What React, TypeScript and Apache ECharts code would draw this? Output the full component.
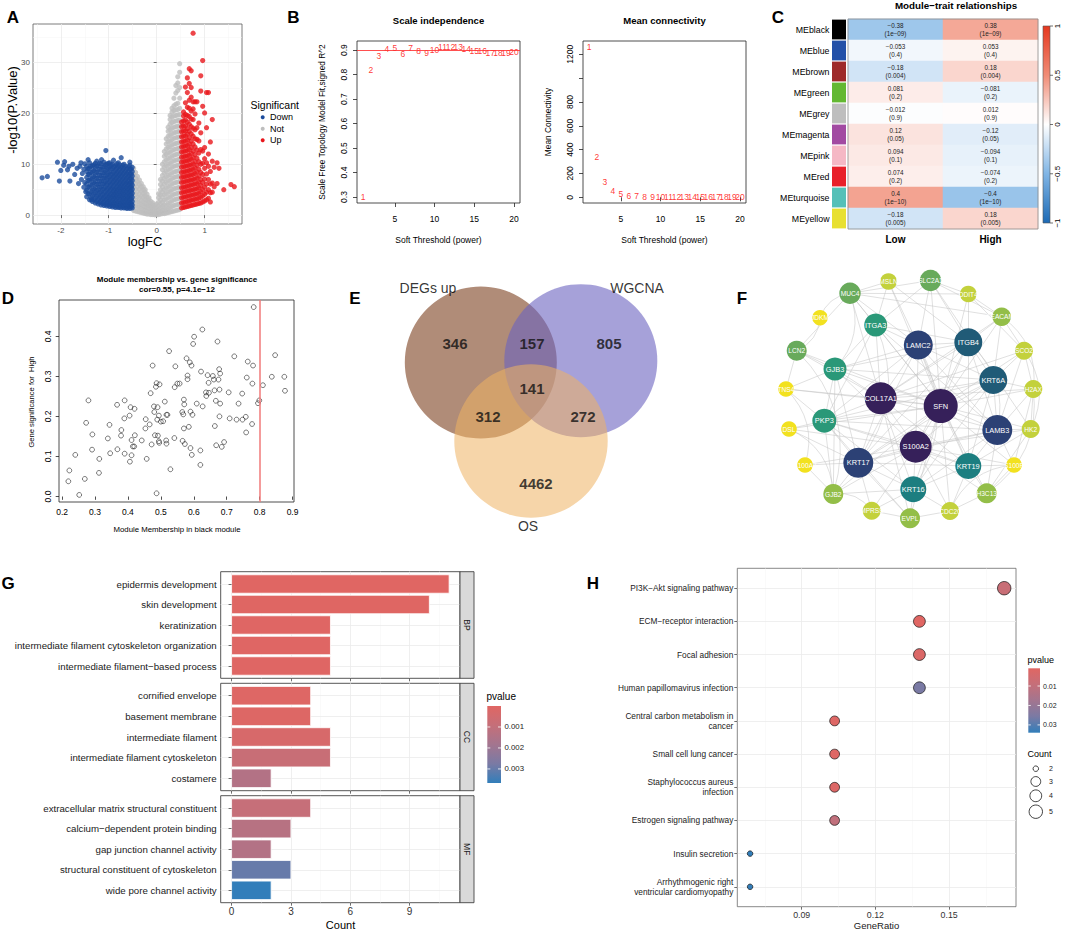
import React, { useEffect, useRef } from "react";
import * as echarts from "echarts";

const FONT = "'Liberation Sans', Arial, Helvetica, sans-serif";

/* ============ A: volcano plot (logFC vs -log10 P) ============ */
const volcanoNotCols: [number, number[]][] = [
  [-0.48, [0.9, 2.0, 3.2, 4.4, 5.6, 6.8, 8.0, 9.2]],
  [-0.44, [0.8, 1.8, 2.9, 4.0, 5.1, 6.2, 7.3, 8.4]],
  [-0.40, [0.7, 1.6, 2.6, 3.6, 4.6, 5.6, 6.6, 7.6]],
  [-0.36, [0.6, 1.5, 2.4, 3.3, 4.2, 5.1, 6.0, 6.9]],
  [-0.32, [0.5, 1.3, 2.1, 2.9, 3.8, 4.7, 5.6, 6.2]],
  [-0.28, [0.4, 1.1, 1.9, 2.7, 3.5, 4.3, 5.0, 5.6]],
  [-0.24, [0.3, 1.0, 1.7, 2.4, 3.1, 3.8, 4.5, 5.0]],
  [-0.20, [0.2, 0.8, 1.5, 2.2, 2.9, 3.5, 4.1]],
  [-0.16, [0.2, 0.7, 1.3, 1.9, 2.5, 3.0, 3.4]],
  [-0.12, [0.1, 0.6, 1.1, 1.7, 2.2, 2.7]],
  [-0.08, [0.1, 0.5, 1.0, 1.5, 2.0, 2.4]],
  [-0.04, [0.05, 0.4, 0.9, 1.4, 1.9]],
  [0.0, [0.05, 0.4, 0.9, 1.5, 2.2]],
  [0.04, [0.1, 0.5, 1.0, 1.7, 2.5, 3.4, 4.2]],
  [0.08, [0.2, 0.7, 1.4, 2.2, 3.0, 4.0, 5.0, 6.0, 7.0]],
  [0.12, [0.3, 0.9, 1.7, 2.6, 3.6, 4.6, 5.6, 6.7, 7.8, 8.9, 10.0]],
  [0.16, [0.3, 1.0, 1.9, 2.9, 4.0, 5.0, 6.1, 7.2, 8.3, 9.4, 10.5, 11.6, 12.5]],
  [0.20, [0.4, 1.1, 2.0, 3.1, 4.2, 5.3, 6.4, 7.5, 8.6, 9.7, 10.8, 11.9, 13.0, 14.0, 15.0]],
  [0.24, [0.5, 1.3, 2.3, 3.4, 4.5, 5.6, 6.7, 7.8, 8.9, 10.0, 11.1, 12.2, 13.3, 14.4, 15.5, 16.5, 17.3]],
  [0.28, [0.6, 1.5, 2.5, 3.6, 4.7, 5.8, 6.9, 8.0, 9.1, 10.2, 11.3, 12.4, 13.5, 14.6, 15.7, 16.8, 17.9, 18.8, 19.6]],
  [0.32, [0.7, 1.7, 2.8, 3.9, 5.0, 6.1, 7.2, 8.3, 9.4, 10.5, 11.6, 12.7, 13.8, 14.9, 16.0, 17.1, 18.2, 19.3, 20.3, 21.0]],
  [0.36, [0.8, 1.9, 3.0, 4.1, 5.2, 6.3, 7.4, 8.5, 9.6, 10.7, 11.8, 12.9, 14.0, 15.1, 16.2, 17.3, 18.4, 19.5, 20.6, 21.5, 23.0]],
  [0.40, [0.9, 2.0, 3.1, 4.2, 5.3, 6.4, 7.5, 8.6, 9.7, 10.8, 11.9, 13.0, 14.1, 15.2, 16.3, 17.4, 18.5, 19.6, 20.7, 21.8, 24.0, 25.5]],
  [0.44, [1.0, 2.1, 3.2, 4.3, 5.4, 6.5, 7.6, 8.7, 9.8, 10.9, 12.0, 13.1, 14.2, 15.3, 16.4, 17.5, 18.6, 19.7, 20.8, 22.0, 24.5, 26.0, 27.2]],
  [0.48, [1.1, 2.2, 3.3, 4.4, 5.5, 6.6, 7.7, 8.8, 9.9, 11.0, 12.1, 13.2, 14.3, 15.4, 16.5, 17.6, 18.7, 19.8, 21.0, 23.0, 25.1, 28.1, 29.8]],
];
const volcanoDownCols: [number, number[]][] = [
  [-1.46, [3.6, 4.9, 6.1, 7.4, 8.6, 9.6]],
  [-1.43, [4.2, 5.5, 6.8, 8.0, 9.1]],
  [-1.40, [3.0, 4.2, 5.5, 6.8, 8.0, 9.2, 10.3]],
  [-1.37, [3.4, 4.6, 5.9, 7.1, 8.4, 9.6]],
  [-1.34, [2.7, 3.8, 4.9, 6.1, 7.3, 8.5, 9.7]],
  [-1.31, [3.0, 4.1, 5.2, 6.4, 7.6, 8.8, 9.9]],
  [-1.28, [2.4, 3.3, 4.4, 5.5, 6.7, 7.9, 9.1, 10.2]],
  [-1.25, [2.7, 3.7, 4.8, 6.0, 7.2, 8.4, 9.6]],
  [-1.22, [2.2, 3.0, 4.0, 5.0, 6.1, 7.3, 8.5, 9.7]],
  [-1.19, [2.5, 3.4, 4.4, 5.5, 6.6, 7.8, 9.0, 10.2]],
  [-1.16, [2.0, 2.7, 3.6, 4.6, 5.6, 6.7, 7.8, 9.0, 10.1]],
  [-1.13, [2.3, 3.1, 4.0, 5.0, 6.1, 7.2, 8.3, 9.4]],
  [-1.10, [1.9, 2.5, 3.3, 4.2, 5.2, 6.2, 7.3, 8.4, 9.5, 10.4]],
  [-1.07, [2.1, 2.9, 3.7, 4.6, 5.6, 6.6, 7.7, 8.8, 9.9]],
  [-1.04, [1.8, 2.4, 3.1, 4.0, 4.9, 5.9, 6.9, 7.9, 9.0, 10.0]],
  [-1.01, [2.0, 2.7, 3.5, 4.4, 5.3, 6.3, 7.3, 8.3, 9.3, 10.2]],
  [-0.98, [1.7, 2.3, 3.0, 3.8, 4.7, 5.6, 6.5, 7.5, 8.5, 9.5, 10.3]],
  [-0.95, [1.9, 2.6, 3.4, 4.2, 5.1, 6.0, 7.0, 8.0, 9.0, 9.9]],
  [-0.92, [1.6, 2.2, 2.9, 3.7, 4.5, 5.4, 6.3, 7.2, 8.1, 9.1, 10.0]],
  [-0.89, [1.8, 2.5, 3.3, 4.1, 4.9, 5.8, 6.7, 7.6, 8.5, 9.5]],
  [-0.86, [1.5, 2.1, 2.8, 3.6, 4.4, 5.2, 6.1, 7.0, 7.9, 8.8, 9.7]],
  [-0.83, [1.7, 2.4, 3.2, 4.0, 4.8, 5.6, 6.5, 7.4, 8.3, 9.2, 10.1]],
  [-0.80, [1.5, 2.0, 2.7, 3.5, 4.3, 5.1, 5.9, 6.8, 7.7, 8.6, 9.5, 10.3]],
  [-0.77, [1.6, 2.3, 3.1, 3.9, 4.7, 5.5, 6.3, 7.2, 8.1, 9.0, 9.9]],
  [-0.74, [1.4, 2.0, 2.6, 3.4, 4.2, 5.0, 5.8, 6.7, 7.6, 8.5, 9.4]],
  [-0.71, [1.6, 2.3, 3.0, 3.8, 4.6, 5.4, 6.2, 7.1, 8.0, 8.9, 9.8]],
  [-0.68, [1.4, 1.9, 2.6, 3.3, 4.1, 4.9, 5.7, 6.5, 7.4, 8.3, 9.2, 10.0]],
  [-0.65, [1.5, 2.2, 2.9, 3.7, 4.5, 5.3, 6.1, 6.9, 7.8, 8.7, 9.6]],
  [-0.62, [1.3, 1.9, 2.5, 3.2, 4.0, 4.8, 5.6, 6.4, 7.3, 8.2, 9.1]],
  [-0.59, [1.5, 2.2, 2.9, 3.6, 4.4, 5.2, 6.0, 6.8, 7.7, 8.6, 9.5]],
  [-0.56, [1.3, 1.8, 2.5, 3.2, 3.9, 4.7, 5.5, 6.3, 7.2, 8.1, 9.0, 9.8]],
  [-0.53, [1.6, 2.3, 3.1, 3.9, 4.7, 5.5, 6.3, 7.2, 8.1, 9.0]],
  [-0.51, [1.4, 2.0, 2.7, 3.5, 4.3, 5.1, 5.9, 6.8, 7.7, 8.6, 9.4]],
];
const volcanoDownExtra: [number, number][] = [
  [-2.39, 7.33], [-2.28, 7.6], [-2.07, 10.4], [-2.03, 6.7], [-2.0, 8.8], [-1.94, 9.8], [-1.92, 10.5],
  [-1.81, 6.7], [-1.83, 9.6], [-1.86, 8.9], [-1.71, 8.0], [-1.63, 6.2], [-1.6, 9.6], [-1.58, 10.3],
  [-1.52, 9.0], [-1.57, 7.0], [-1.55, 8.2], [-1.5, 6.4], [-1.36, 3.0], [-1.06, 12.7], [-0.74, 11.3],
  [-0.56, 10.4], [-1.43, 10.9], [-1.25, 10.6], [-1.5, 10.1], [-1.66, 9.2], [-1.75, 10.0], [-1.52, 5.5],
  [-1.48, 4.6], [-0.9, 10.8], [-1.15, 10.9],
];
const volcanoUpCols: [number, number[]][] = [
  [0.52, [1.4, 2.4, 3.4, 4.4, 5.4, 6.4, 7.4, 8.4, 9.4, 10.4, 11.4, 12.4, 13.4, 14.4, 15.4, 16.4, 17.4, 18.3]],
  [0.56, [1.5, 2.5, 3.5, 4.5, 5.5, 6.5, 7.5, 8.5, 9.5, 10.5, 11.5, 12.5, 13.5, 14.5, 15.5, 16.5, 17.5, 18.5, 19.5, 20.3]],
  [0.60, [1.6, 2.6, 3.6, 4.6, 5.6, 6.6, 7.6, 8.6, 9.6, 10.6, 11.6, 12.6, 13.6, 14.6, 15.6, 16.6, 17.6, 18.7, 19.8, 22.1, 25.2]],
  [0.64, [1.7, 2.7, 3.7, 4.7, 5.7, 6.7, 7.7, 8.7, 9.7, 10.7, 11.7, 12.7, 13.7, 14.8, 15.9, 17.0, 18.3, 19.6, 21.2, 24.1, 27.0]],
  [0.68, [1.8, 2.8, 3.8, 4.8, 5.8, 6.8, 7.8, 8.8, 9.8, 10.8, 11.8, 12.9, 14.0, 15.2, 16.5, 17.9, 19.4, 21.0, 22.6, 25.9, 28.8]],
  [0.72, [1.9, 2.9, 3.9, 4.9, 5.9, 6.9, 7.9, 8.9, 9.9, 11.0, 12.1, 13.3, 14.6, 16.0, 17.4, 18.9, 20.5, 23.2, 25.1, 28.4]],
  [0.76, [2.0, 3.0, 4.0, 5.0, 6.0, 7.0, 8.0, 9.0, 10.1, 11.3, 12.6, 14.0, 15.5, 17.1, 18.8, 20.9, 22.3, 35.8]],
  [0.80, [2.1, 3.1, 4.1, 5.1, 6.1, 7.1, 8.2, 9.3, 10.5, 11.9, 13.4, 15.0, 16.8, 19.9, 22.3]],
  [0.84, [2.2, 3.2, 4.2, 5.2, 6.2, 7.3, 8.5, 9.8, 11.2, 12.8, 14.9, 17.2, 22.3]],
  [0.88, [2.3, 3.3, 4.3, 5.4, 6.5, 7.7, 9.0, 10.5, 12.2, 14.6, 18.1]],
  [0.92, [2.4, 3.5, 4.6, 5.8, 7.0, 8.4, 10.0, 12.9, 16.2, 24.4, 27.4]],
  [0.96, [2.6, 3.8, 5.0, 6.4, 8.0, 10.2, 12.6, 21.4, 30.4]],
  [1.0, [2.8, 4.1, 5.5, 7.1, 9.2, 11.1, 13.3, 20.1]],
  [1.04, [3.0, 4.5, 6.1, 8.1, 10.3, 17.2, 24.1]],
  [1.08, [3.3, 5.0, 7.0, 9.6, 12.0, 24.1]],
  [1.12, [2.6, 4.4, 6.1, 8.6, 14.4]],
  [1.16, [4.5, 6.3, 10.6, 18.8]],
  [1.2, [5.6, 9.4]],
  [1.26, [6.2, 10.3]],
  [1.3, [9.2]],
  [1.4, [5.0]],
  [1.55, [6.0]],
  [1.62, [5.6]],
];
const volcanoXTicks = [-2, -1, 0, 1];
const volcanoXMinor = [-2.5, -1.5, -0.5, 0.5, 1.5];
const volcanoYTicks = [0, 10, 20, 30];
const volcanoYMinor = [5, 15, 25, 35];
const significanceLevels = ["Down", "Not", "Up"];
const significanceColors = ["#1C4C9C", "#BEBEBE", "#E8161C"];

/* ============ B: soft threshold ============ */
const softPowers = [1, 2, 3, 4, 5, 6, 7, 8, 9, 10, 11, 12, 13, 14, 15, 16, 17, 18, 19, 20];
const scaleFitR2 = [0.3, 0.819, 0.876, 0.904, 0.909, 0.885, 0.907, 0.897, 0.887, 0.901, 0.912, 0.913, 0.911, 0.904, 0.895, 0.896, 0.887, 0.889, 0.889, 0.893];
const meanConnectivity = [1262, 341, 126, 55, 28, 14, 8, 5, 3.5, 2.5, 2, 1.5, 1.2, 1, 0.8, 0.7, 0.6, 0.5, 0.4, 0.35];
const softXTicks = [5, 10, 15, 20];
const r2Ticks = [0.3, 0.4, 0.5, 0.6, 0.7, 0.8, 0.9];
const connTicks = [0, 200, 400, 600, 800, 1000, 1200];
const connLabels = [0, 200, 400, 600, 800, 1200];
const r2Cut = 0.9;

/* ============ C: module-trait ============ */
const modules = ["MEblack", "MEblue", "MEbrown", "MEgreen", "MEgrey", "MEmagenta", "MEpink", "MEred", "MEturquoise", "MEyellow"];
const moduleColors = ["#000000", "#2350A8", "#9E2A2A", "#63B832", "#BEBEBE", "#A24AA2", "#F5B8C5", "#E8202A", "#55C0B8", "#E8E030"];
const traits = ["Low", "High"];
const corLow = [-0.38, -0.053, -0.18, 0.081, -0.012, 0.12, 0.094, 0.074, 0.4, -0.18];
const corHigh = [0.38, 0.053, 0.18, -0.081, 0.012, -0.12, -0.094, -0.074, -0.4, 0.18];
const pModule = ["1e-09", "0.4", "0.004", "0.2", "0.9", "0.05", "0.1", "0.2", "1e-10", "0.005"];
const heatColors = ["#1D6AB5", "#80B5E5", "#FFFFFF", "#F08C76", "#E5381F"];
const heatLegendTicks = [1, 0.5, 0, -0.5, -1];

/* ============ D: MM vs GS ============ */
const mmGs: [number, number][] = [
  [0.219, 0.038], [0.222, 0.065], [0.24, 0.104], [0.252, 0.004], [0.269, 0.044], [0.273, 0.184], [0.28, 0.24], [0.292, 0.155],
  [0.291, 0.117], [0.313, 0.094], [0.312, 0.059], [0.339, 0.145], [0.344, 0.179], [0.346, 0.108], [0.367, 0.229], [0.368, 0.118],
  [0.38, 0.166], [0.379, 0.152], [0.39, 0.24], [0.389, 0.195], [0.39, 0.107], [0.405, 0.202], [0.408, 0.223], [0.406, 0.087],
  [0.411, 0.141], [0.411, 0.103], [0.415, 0.125], [0.419, 0.125], [0.42, 0.219], [0.421, 0.153], [0.442, 0.14], [0.454, 0.193],
  [0.453, 0.17], [0.457, 0.094], [0.466, 0.18], [0.469, 0.258], [0.472, 0.13], [0.475, 0.327], [0.479, 0.225], [0.48, 0.211],
  [0.482, 0.153], [0.485, 0.274], [0.487, 0.283], [0.49, 0.223], [0.489, 0.192], [0.487, 0.008], [0.491, 0.152], [0.494, 0.138],
  [0.495, 0.134], [0.496, 0.28], [0.494, 0.202], [0.5, 0.187], [0.507, 0.188], [0.512, 0.237], [0.516, 0.14], [0.517, 0.204],
  [0.52, 0.204], [0.517, 0.132], [0.525, 0.363], [0.529, 0.068], [0.544, 0.325], [0.542, 0.273], [0.541, 0.146], [0.55, 0.282],
  [0.557, 0.282], [0.565, 0.211], [0.566, 0.139], [0.568, 0.205], [0.57, 0.242], [0.571, 0.23], [0.57, 0.17], [0.573, 0.131],
  [0.578, 0.345], [0.581, 0.302], [0.581, 0.293], [0.585, 0.174], [0.588, 0.335], [0.59, 0.121], [0.59, 0.212], [0.593, 0.327],
  [0.594, 0.104], [0.596, 0.204], [0.598, 0.381], [0.601, 0.399], [0.609, 0.232], [0.62, 0.115], [0.62, 0.079], [0.622, 0.312],
  [0.626, 0.417], [0.627, 0.225], [0.637, 0.26], [0.638, 0.251], [0.642, 0.303], [0.646, 0.259], [0.645, 0.284], [0.658, 0.301],
  [0.661, 0.292], [0.663, 0.265], [0.664, 0.176], [0.667, 0.239], [0.668, 0.128], [0.672, 0.387], [0.675, 0.292], [0.677, 0.318],
  [0.678, 0.267], [0.678, 0.2], [0.68, 0.307], [0.68, 0.232], [0.685, 0.124], [0.692, 0.136], [0.706, 0.26], [0.709, 0.195],
  [0.723, 0.35], [0.73, 0.192], [0.736, 0.232], [0.747, 0.257], [0.748, 0.192], [0.758, 0.199], [0.759, 0.16], [0.761, 0.297],
  [0.764, 0.337], [0.777, 0.181], [0.778, 0.282], [0.78, 0.327], [0.782, 0.473], [0.795, 0.233], [0.799, 0.24], [0.81, 0.278],
  [0.837, 0.299], [0.847, 0.353], [0.875, 0.299], [0.877, 0.264],
];
const mmTicks = [0.2, 0.3, 0.4, 0.5, 0.6, 0.7, 0.8, 0.9];
const gsTicks = [0, 0.1, 0.2, 0.3, 0.4];
const mmCut = 0.8;

/* ============ E: Venn ============ */
const vennNames = ["DEGs up", "WGCNA", "OS"];
const vennCx = [480.8, 580.8, 531];
const vennCy = [362.5, 360.7, 441];
const vennR = [76, 76.5, 76.7];
const vennFill = ["#7B3F1E", "#6A62C0", "#EFB262"];
const vennAlpha = [0.6, 0.6, 0.55];
const vennLabelColor = ["#7B2E1E", "#5D55B0", "#F2B866"];
const vennLabelX = [428, 637, 528];
const vennLabelY = [288, 288, 526];
const vennCounts = ["346", "157", "805", "141", "312", "272", "4462"];
const vennCountX = [455, 532, 609, 532, 488, 583, 536];
const vennCountY = [343, 343, 343, 388, 416, 416, 483];

/* ============ F: PPI network ============ */
const ppiNodes = ["MSLN", "SLC2A1", "MUC4", "DDIT4", "JDKM", "CEACAM5", "ITGA3", "LAMC2", "ITGB4", "LCN2", "SCO2", "GJB3", "KRT6A", "TNS4", "H2AX", "COL17A1", "SFN", "PKP3", "LAMB3", "DSL", "HK2", "S100A2", "KRT17", "KRT19", "S100A7", "S100P", "GJB2", "KRT16", "H3C13", "TMPRSS4", "CDC20", "EVPL"];
const ppiX = [888.5, 930.5, 850, 968.3, 820, 1001.7, 875.7, 918.3, 968.3, 796.7, 1024, 835, 993.3, 786, 1033.3, 880.7, 940.7, 824.3, 997.3, 789, 1030.7, 915.7, 858.3, 968.3, 805, 1014, 833.3, 913.3, 986.7, 871.7, 950, 910];
const ppiY = [281.5, 280.5, 293.3, 294, 317.7, 316.7, 325, 345, 342.3, 350.7, 350.7, 369, 380, 389, 389, 398.3, 406, 420.7, 430, 429, 429, 446.7, 462.7, 466, 465, 465, 494, 489.3, 493.3, 510.7, 511, 518.3];
const ppiRadius = [8.3, 10.7, 10.7, 8.3, 7.8, 9.3, 11.5, 14.5, 14, 10, 9, 11.5, 14, 7.8, 9, 16, 17, 12, 15, 7.8, 9, 16, 15, 13, 7.8, 7.8, 10, 13, 10, 9, 9, 10];
const ppiColors = ["#C3D13C", "#68AA5B", "#68AA5B", "#C3D13C", "#F2E11F", "#93BE48", "#2A9878", "#2C4175", "#205B77", "#68AA5B", "#C3D13C", "#2A9878", "#205B77", "#F2E11F", "#C3D13C", "#36205A", "#36205A", "#2A9878", "#2C4175", "#F2E11F", "#C3D13C", "#36205A", "#2C4175", "#1C7E80", "#F2E11F", "#F2E11F", "#93BE48", "#1C7E80", "#93BE48", "#C3D13C", "#C3D13C", "#93BE48"];
const ppiLinks: [string, string][] = [
  ["SFN", "COL17A1"], ["SFN", "S100A2"], ["SFN", "LAMC2"], ["SFN", "LAMB3"], ["SFN", "KRT17"], ["SFN", "ITGB4"], ["SFN", "KRT6A"], ["SFN", "KRT19"],
  ["SFN", "KRT16"], ["SFN", "ITGA3"], ["SFN", "GJB3"], ["SFN", "PKP3"], ["SFN", "MUC4"], ["SFN", "SLC2A1"], ["SFN", "DDIT4"], ["SFN", "CEACAM5"],
  ["SFN", "SCO2"], ["SFN", "H2AX"], ["SFN", "HK2"], ["SFN", "S100P"], ["SFN", "H3C13"], ["SFN", "CDC20"], ["SFN", "EVPL"], ["SFN", "LCN2"],
  ["SFN", "TNS4"], ["SFN", "GJB2"], ["SFN", "MSLN"], ["SFN", "DSL"],
  ["COL17A1", "S100A2"], ["COL17A1", "LAMC2"], ["COL17A1", "LAMB3"], ["COL17A1", "KRT17"], ["COL17A1", "ITGB4"], ["COL17A1", "KRT6A"], ["COL17A1", "KRT19"],
  ["COL17A1", "KRT16"], ["COL17A1", "ITGA3"], ["COL17A1", "GJB3"], ["COL17A1", "PKP3"], ["COL17A1", "LCN2"], ["COL17A1", "TNS4"], ["COL17A1", "MUC4"],
  ["COL17A1", "EVPL"], ["COL17A1", "CEACAM5"], ["COL17A1", "H2AX"], ["COL17A1", "SCO2"],
  ["S100A2", "LAMC2"], ["S100A2", "LAMB3"], ["S100A2", "KRT17"], ["S100A2", "ITGB4"], ["S100A2", "KRT6A"], ["S100A2", "KRT19"], ["S100A2", "KRT16"],
  ["S100A2", "PKP3"], ["S100A2", "GJB3"], ["S100A2", "DSL"], ["S100A2", "S100A7"], ["S100A2", "GJB2"], ["S100A2", "TMPRSS4"], ["S100A2", "CDC20"],
  ["S100A2", "H3C13"], ["S100A2", "HK2"], ["S100A2", "S100P"],
  ["LAMC2", "LAMB3"], ["LAMC2", "KRT17"], ["LAMC2", "ITGB4"], ["LAMC2", "ITGA3"], ["LAMC2", "KRT6A"], ["LAMC2", "MSLN"], ["LAMC2", "SLC2A1"],
  ["LAMC2", "MUC4"], ["LAMC2", "GJB3"], ["LAMC2", "KRT19"], ["LAMC2", "PKP3"],
  ["LAMB3", "ITGB4"], ["LAMB3", "KRT17"], ["LAMB3", "KRT6A"], ["LAMB3", "KRT19"], ["LAMB3", "KRT16"], ["LAMB3", "H2AX"], ["LAMB3", "HK2"],
  ["LAMB3", "SCO2"], ["LAMB3", "S100P"], ["LAMB3", "H3C13"], ["LAMB3", "ITGA3"], ["LAMB3", "PKP3"],
  ["KRT17", "KRT6A"], ["KRT17", "KRT19"], ["KRT17", "KRT16"], ["KRT17", "PKP3"], ["KRT17", "GJB3"], ["KRT17", "GJB2"], ["KRT17", "TMPRSS4"],
  ["KRT17", "EVPL"], ["KRT17", "S100A7"], ["KRT17", "DSL"], ["KRT17", "ITGB4"],
  ["ITGB4", "ITGA3"], ["ITGB4", "KRT6A"], ["ITGB4", "DDIT4"], ["ITGB4", "CEACAM5"], ["ITGB4", "SLC2A1"], ["ITGB4", "MSLN"], ["ITGB4", "KRT19"], ["ITGB4", "GJB3"],
  ["KRT6A", "KRT16"], ["KRT6A", "KRT19"], ["KRT6A", "SCO2"], ["KRT6A", "H2AX"], ["KRT6A", "CEACAM5"], ["KRT6A", "PKP3"], ["KRT6A", "GJB3"],
  ["KRT19", "KRT16"], ["KRT19", "CDC20"], ["KRT19", "H3C13"], ["KRT19", "S100P"], ["KRT19", "HK2"], ["KRT19", "PKP3"],
  ["KRT16", "EVPL"], ["KRT16", "TMPRSS4"], ["KRT16", "GJB2"], ["KRT16", "CDC20"], ["KRT16", "PKP3"],
  ["ITGA3", "MUC4"], ["ITGA3", "GJB3"], ["ITGA3", "MSLN"], ["ITGA3", "SLC2A1"], ["ITGA3", "PKP3"],
  ["GJB3", "LCN2"], ["GJB3", "PKP3"], ["GJB3", "TNS4"], ["GJB3", "GJB2"],
  ["PKP3", "DSL"], ["PKP3", "GJB2"], ["PKP3", "EVPL"], ["PKP3", "TNS4"],
  ["MUC4", "LCN2"], ["MUC4", "MSLN"], ["MUC4", "SLC2A1"], ["MUC4", "DDIT4"], ["MUC4", "CEACAM5"],
  ["LCN2", "TNS4"], ["SLC2A1", "DDIT4"], ["SLC2A1", "CEACAM5"], ["SLC2A1", "HK2"], ["DDIT4", "CEACAM5"], ["DDIT4", "SCO2"],
  ["SCO2", "H2AX"], ["H2AX", "HK2"], ["H2AX", "S100P"], ["HK2", "H3C13"], ["H3C13", "CDC20"], ["H3C13", "S100P"],
  ["EVPL", "TMPRSS4"], ["EVPL", "CDC20"], ["GJB2", "S100A7"], ["CEACAM5", "SCO2"],
];
const ppiCurvedLinks: [string, string][] = [
  ["JDKM", "MUC4"], ["JDKM", "LCN2"], ["LCN2", "GJB2"], ["TNS4", "S100A7"], ["DSL", "GJB2"], ["MUC4", "GJB3"],
  ["SCO2", "HK2"], ["H2AX", "H3C13"], ["CEACAM5", "H2AX"], ["ITGA3", "KRT17"], ["LAMC2", "KRT16"], ["ITGB4", "LAMB3"],
  ["GJB2", "TMPRSS4"], ["CDC20", "S100P"],
];

/* ============ G: GO enrichment ============ */
const goOntologies = ["BP", "CC", "MF"];
const goTerms = [
  ["epidermis development", "skin development", "keratinization", "intermediate filament cytoskeleton organization", "intermediate filament−based process"],
  ["cornified envelope", "basement membrane", "intermediate filament", "intermediate filament cytoskeleton", "costamere"],
  ["extracellular matrix structural constituent", "calcium−dependent protein binding", "gap junction channel activity", "structural constituent of cytoskeleton", "wide pore channel activity"],
];
const goCounts = [
  [11, 10, 5, 5, 5],
  [4, 4, 5, 5, 2],
  [4, 3, 2, 3, 2],
];
const goPvalues = [
  [0.00001, 0.00002, 0.00003, 0.00004, 0.00005],
  [0.00008, 0.0001, 0.0003, 0.0008, 0.0014],
  [0.0009, 0.0013, 0.0014, 0.003, 0.00367],
];
const goPMax = 0.00367;
const goCountTicks = [0, 3, 6, 9];
const goCountMinor = [1.5, 4.5, 7.5, 10.5];
const goLegendTicks = [0.001, 0.002, 0.003];
const enrichColors = ["#e06663", "#c56f79", "#a3758f", "#7a7aa4", "#327eba"];

/* ============ H: KEGG dot plot ============ */
const keggTerms = [
  "PI3K−Akt signaling pathway", "ECM−receptor interaction", "Focal adhesion", "Human papillomavirus infection",
  "Central carbon metabolism in\ncancer", "Small cell lung cancer", "Staphylococcus aureus\ninfection",
  "Estrogen signaling pathway", "Insulin secretion", "Arrhythmogenic right\nventricular cardiomyopathy",
];
const keggGeneRatio = [0.1724, 0.1379, 0.1379, 0.1379, 0.1034, 0.1034, 0.1034, 0.1034, 0.069, 0.069];
const keggCounts = [5, 4, 4, 4, 3, 3, 3, 3, 2, 2];
const keggPvalues = [0.0082, 0.0009, 0.0025, 0.0257, 0.0015, 0.0016, 0.0022, 0.0102, 0.034, 0.0338];
const keggPMin = 0.0009;
const keggPMax = 0.034;
const keggRatioTicks = [0.09, 0.12, 0.15];
const keggRatioMinor = [0.075, 0.105, 0.135, 0.165];
const keggLegendTicks = [0.01, 0.02, 0.03];
const keggCountLegend = [2, 3, 4, 5];
const countDiameter: Record<number, number> = { 2: 5.5, 3: 9.8, 4: 11.8, 5: 13.4 };

/* ============================================================ */
const near = (a: number, b: number) => Math.abs(a - b) < 1e-7;
const pick = (vals: number[], fmt: (v: number) => string) => (v: number) => (vals.some((t) => near(t, v)) ? fmt(v) : "");
const minus = (s: string) => s.replace(/-/g, "−");

function buildOption() {
  const grid: any[] = [];
  const xAxis: any[] = [];
  const yAxis: any[] = [];
  const series: any[] = [];
  const graphic: any[] = [];

  const addGrid = (g: any) => { grid.push({ containLabel: false, ...g }); return grid.length - 1; };
  const addX = (a: any) => { xAxis.push(a); return xAxis.length - 1; };
  const addY = (a: any) => { yAxis.push(a); return yAxis.length - 1; };
  const addS = (s: any) => { series.push({ animation: false, silent: true, ...s }); return series.length - 1; };
  const text = (t: string, x: number, y: number, o: any = {}) => {
    graphic.push({
      type: "text", x, y, rotation: o.rotation || 0, silent: true, z: 100,
      style: {
        text: t, fill: o.fill || "#000", fontSize: o.size || 10, fontWeight: o.bold ? "bold" : "normal",
        fontFamily: FONT, align: o.align || "center", verticalAlign: o.va || "middle", lineHeight: o.lh,
      },
    });
  };

  const ggX = (gi: number, min: number, max: number, major: number[], minor: number[], showLabels: boolean, fmt: (v: number) => string, o: any = {}) => {
    const step = major[1] - major[0];
    const idx = addX({
      type: "value", gridIndex: gi, min, max, minInterval: step, maxInterval: step, position: "bottom", z: 2,
      axisLine: { show: false },
      axisTick: { show: true, length: 3, lineStyle: { color: "#333", width: 0.7 }, customValues: major },
      axisLabel: { show: showLabels, customValues: major, formatter: pick(major, fmt), fontSize: o.fontSize || 8, color: o.color || "#4D4D4D", margin: o.margin ?? 3, fontFamily: FONT },
      splitLine: { show: true, lineStyle: { color: "#EBEBEB", width: 0.8 } },
    });
    addX({
      type: "value", gridIndex: gi, min, max, minInterval: step / 2, maxInterval: step / 2, position: "top", z: 1,
      axisLine: { show: false }, axisTick: { show: false, customValues: minor }, axisLabel: { show: false },
      splitLine: { show: true, lineStyle: { color: "#F5F5F5", width: 0.5 } },
    });
    return idx;
  };
  const ggY = (gi: number, min: number, max: number, major: number[], minor: number[] | null, fmt: (v: number) => string, o: any = {}) => {
    const step = major.length > 1 ? major[1] - major[0] : 1;
    const idx = addY({
      type: "value", gridIndex: gi, min, max, inverse: !!o.inverse, minInterval: step, maxInterval: step, position: "left", z: 2,
      axisLine: { show: false },
      axisTick: { show: true, length: 3, lineStyle: { color: "#333", width: 0.7 }, customValues: major },
      axisLabel: { show: true, customValues: major, formatter: pick(major, fmt), fontSize: o.fontSize || 8, color: o.color || "#4D4D4D", margin: o.margin ?? 3, fontFamily: FONT, lineHeight: o.lineHeight },
      splitLine: { show: true, lineStyle: { color: "#EBEBEB", width: 0.8 } },
    });
    if (minor) {
      addY({
        type: "value", gridIndex: gi, min, max, minInterval: step / 2, maxInterval: step / 2, position: "right", z: 1,
        axisLine: { show: false }, axisTick: { show: false, customValues: minor }, axisLabel: { show: false },
        splitLine: { show: true, lineStyle: { color: "#F5F5F5", width: 0.5 } },
      });
    }
    return idx;
  };
  const rAxis = (kind: "x" | "y", gi: number, min: number, max: number, ticks: number[], labels: number[], fmt: (v: number) => string, o: any = {}) => {
    const step = ticks[1] - ticks[0];
    const a = {
      type: "value", gridIndex: gi, min, max, minInterval: step, maxInterval: step,
      axisLine: { show: false },
      axisTick: { show: true, length: o.tick ?? 4, lineStyle: { color: "#222", width: 0.8 }, customValues: ticks },
      axisLabel: { show: true, customValues: labels, formatter: pick(labels, fmt), fontSize: o.fontSize || 8.5, color: "#000", margin: o.margin ?? 10, rotate: o.rotate || 0, fontFamily: FONT },
      splitLine: { show: false },
    };
    return kind === "x" ? addX(a) : addY(a);
  };
  const hiddenAxis = (kind: "x" | "y", gi: number, min: number, max: number, inverse = false) => {
    const a = { type: "value", gridIndex: gi, min, max, inverse, show: false, splitLine: { show: false } };
    return kind === "x" ? addX(a) : addY(a);
  };

  /* ---------------- panel letters ---------------- */
  const letters: [string, number, number][] = [["A", 13, 17], ["B", 293.5, 17], ["C", 778, 17], ["D", 8, 298], ["E", 355, 298], ["F", 742, 298], ["G", 8, 583], ["H", 593, 583]];
  letters.forEach(([t, x, y]) => text(t, x, y, { size: 17, bold: true }));

  /* ---------------- A ---------------- */
  const gA = addGrid({ left: 33, top: 24, width: 209, height: 200, show: true, backgroundColor: "#fff", borderColor: "#5A5A5A", borderWidth: 0.8 });
  const aX = ggX(gA, -2.58, 1.78, volcanoXTicks, volcanoXMinor, true, (v) => String(v), { margin: 2.5 });
  const aY = ggY(gA, -1.75, 37.6, volcanoYTicks, volcanoYMinor, (v) => String(v), { margin: 3 });
  const flat = (cols: [number, number[]][]) => cols.flatMap(([x, ys]) => ys.map((y) => [x, y]));
  const volcanoSets = [
    [...flat(volcanoDownCols), ...volcanoDownExtra],
    flat(volcanoNotCols),
    flat(volcanoUpCols),
  ];
  [1, 0, 2].forEach((k) => {
    addS({ type: "scatter", xAxisIndex: aX, yAxisIndex: aY, data: volcanoSets[k], symbolSize: 5.2, itemStyle: { color: significanceColors[k] } });
  });
  text("-log10(P.Value)", 12.7, 110, { size: 13, rotation: Math.PI / 2 });
  text("logFC", 145, 241.5, { size: 13 });
  text("Significant", 250.5, 105, { size: 10.5, align: "left" });
  significanceLevels.forEach((lv, i) => {
    const y = 117.3 + i * 11.5;
    graphic.push({ type: "circle", shape: { cx: 262.7, cy: y, r: 2 }, style: { fill: significanceColors[i] }, silent: true });
    text(lv, 270, y, { size: 9, align: "left" });
  });

  /* ---------------- B ---------------- */
  const gB1 = addGrid({ left: 357, top: 41, width: 163, height: 162, show: true, borderColor: "#222", borderWidth: 0.8 });
  const b1X = rAxis("x", gB1, 0.24, 20.76, softXTicks, softXTicks, (v) => String(v), { margin: 11 });
  const b1Y = rAxis("y", gB1, 0.2755, 0.9375, r2Ticks, r2Ticks, (v) => v.toFixed(1), { margin: 9, rotate: 90 });
  addS({
    type: "scatter", xAxisIndex: b1X, yAxisIndex: b1Y, data: softPowers.map((p, i) => [p, scaleFitR2[i]]),
    symbolSize: 1, itemStyle: { color: "rgba(0,0,0,0)" },
    label: { show: true, position: "inside", formatter: (p: any) => String(p.data[0]), color: "#FF0000", fontSize: 8.5, fontFamily: FONT },
    markLine: { silent: true, symbol: ["none", "none"], label: { show: false }, lineStyle: { color: "#FF3030", width: 1, type: "solid", opacity: 0.85 }, data: [{ yAxis: r2Cut }] },
  });
  text("Scale independence", 438.5, 20, { size: 9.5, bold: true });
  text("Scale Free Topology Model Fit,signed R^2", 322, 122, { size: 8.3, rotation: Math.PI / 2 });
  text("Soft Threshold (power)", 438.5, 240, { size: 8.5 });

  const gB2 = addGrid({ left: 583, top: 41, width: 163, height: 162, show: true, borderColor: "#222", borderWidth: 0.8 });
  const b2X = rAxis("x", gB2, 0.24, 20.76, softXTicks, softXTicks, (v) => String(v), { margin: 11 });
  const b2Y = rAxis("y", gB2, -48, 1312, connTicks, connLabels, (v) => String(v), { margin: 9, rotate: 90 });
  addS({
    type: "scatter", xAxisIndex: b2X, yAxisIndex: b2Y, data: softPowers.map((p, i) => [p, meanConnectivity[i]]),
    symbolSize: 1, itemStyle: { color: "rgba(0,0,0,0)" },
    label: { show: true, position: "inside", formatter: (p: any) => String(p.data[0]), color: "#FF0000", fontSize: 8.5, fontFamily: FONT },
  });
  text("Mean connectivity", 664.5, 20, { size: 9.5, bold: true });
  text("Mean Connectivity", 548, 122, { size: 8.3, rotation: Math.PI / 2 });
  text("Soft Threshold (power)", 664.5, 240, { size: 8.5 });

  /* ---------------- C ---------------- */
  const gC = addGrid({ left: 848, top: 19, width: 190, height: 210 });
  const cX = addX({ type: "category", gridIndex: gC, data: traits, axisLine: { show: false }, axisTick: { show: false }, axisLabel: { interval: 0, fontSize: 10, fontWeight: "bold", color: "#000", margin: 5, fontFamily: FONT }, splitLine: { show: false } });
  const cY = addY({ type: "category", gridIndex: gC, data: modules, inverse: true, axisLine: { show: false }, axisTick: { show: false }, axisLabel: { show: false }, splitLine: { show: false } });
  const heatData: any[] = [];
  modules.forEach((m, i) => { heatData.push([0, i, corLow[i]]); heatData.push([1, i, corHigh[i]]); });
  const sC = addS({
    type: "heatmap", xAxisIndex: cX, yAxisIndex: cY, data: heatData,
    label: { show: true, fontSize: 6.3, lineHeight: 8, color: "#222", fontFamily: FONT, formatter: (p: any) => `${minus(String(p.data[2]))}\n(${minus(pModule[p.data[1]])})` },
    itemStyle: { borderWidth: 0 },
  });
  graphic.push({ type: "rect", shape: { x: 848, y: 19, width: 190, height: 210 }, style: { fill: "none", stroke: "#8A8A8A", lineWidth: 0.8 }, silent: true, z: 90 });
  const gCs = addGrid({ left: 832, top: 19, width: 14, height: 210 });
  const csX = addX({ type: "category", gridIndex: gCs, data: ["module"], show: false });
  const csY = addY({ type: "category", gridIndex: gCs, data: modules, inverse: true, axisLine: { show: false }, axisTick: { show: false }, axisLabel: { interval: 0, fontSize: 8.8, color: "#000", margin: 2.5, fontFamily: FONT }, splitLine: { show: false } });
  addS({
    type: "custom", xAxisIndex: csX, yAxisIndex: csY, data: modules.map((m, i) => [0, i]),
    renderItem: (params: any, api: any) => {
      const c = api.coord([api.value(0), api.value(1)]);
      const s = api.size([1, 1]);
      return { type: "rect", shape: { x: c[0] - s[0] / 2, y: c[1] - s[1] / 2 + 0.6, width: s[0], height: s[1] - 1.2 }, style: { fill: moduleColors[params.dataIndex] } };
    },
  });
  text("Module−trait relationships", 956, 5.8, { size: 9.8, bold: true });
  graphic.push({
    type: "rect", shape: { x: 1043, y: 26, width: 7, height: 197 }, silent: true, z: 90,
    style: { fill: new echarts.graphic.LinearGradient(0, 0, 0, 1, heatColors.slice().reverse().map((c, i) => ({ offset: i / 4, color: c }))), stroke: "#555", lineWidth: 0.6 },
  });
  heatLegendTicks.forEach((v) => {
    const y = 26 + ((1 - v) / 2) * 197;
    graphic.push({ type: "line", shape: { x1: 1050, y1: y, x2: 1053, y2: y }, style: { stroke: "#333", lineWidth: 0.7 }, silent: true, z: 90 });
    text(minus(String(v)), 1057.5, y, { size: 8, rotation: Math.PI / 2 });
  });

  /* ---------------- D ---------------- */
  const gD = addGrid({ left: 59, top: 300, width: 235, height: 202, show: true, borderColor: "#222", borderWidth: 0.8 });
  const dX = rAxis("x", gD, 0.1906, 0.9044, mmTicks, mmTicks, (v) => v.toFixed(1), { margin: 5, fontSize: 8.5, tick: 3.3 });
  const dY = rAxis("y", gD, -0.0137, 0.4907, gsTicks, gsTicks, (v) => v.toFixed(1), { margin: 7, fontSize: 8.5, rotate: 90, tick: 3.3 });
  addS({
    type: "scatter", xAxisIndex: dX, yAxisIndex: dY, data: mmGs, symbol: "circle", symbolSize: 4.8,
    itemStyle: { color: "rgba(0,0,0,0)", borderColor: "#111", borderWidth: 0.7 },
    markLine: { silent: true, symbol: ["none", "none"], label: { show: false }, lineStyle: { color: "#F07A7A", width: 1.5, type: "solid" }, data: [{ xAxis: mmCut }] },
  });
  text("Module membership vs. gene significance", 177, 279.3, { size: 8, bold: true });
  text("cor=0.55, p=4.1e−12", 177, 289.3, { size: 8, bold: true });
  text("Module Membership in black module", 177, 529, { size: 7.8 });
  text("Gene significance for  High", 31.7, 402, { size: 7.6, rotation: Math.PI / 2 });

  /* ---------------- E ---------------- */
  const gE = addGrid({ left: 340, top: 270, width: 380, height: 270 });
  const eX = hiddenAxis("x", gE, 340, 720);
  const eY = hiddenAxis("y", gE, 270, 540, true);
  addS({
    type: "custom", xAxisIndex: eX, yAxisIndex: eY, data: vennNames.map((n, i) => [vennCx[i], vennCy[i], vennR[i]]),
    renderItem: (params: any, api: any) => {
      const c = api.coord([api.value(0), api.value(1)]);
      const r = api.size([api.value(2), 0])[0];
      const i = params.dataIndex;
      return { type: "circle", shape: { cx: c[0], cy: c[1], r }, style: { fill: vennFill[i], opacity: vennAlpha[i] } };
    },
  });
  addS({
    type: "scatter", xAxisIndex: eX, yAxisIndex: eY, data: vennCounts.map((c, i) => [vennCountX[i], vennCountY[i], c]),
    symbolSize: 1, itemStyle: { color: "rgba(0,0,0,0)" }, z: 5,
    label: { show: true, position: "inside", formatter: (p: any) => String(p.data[2]), fontSize: 15, fontWeight: "bold", color: "#111", fontFamily: FONT },
  });
  addS({
    type: "scatter", xAxisIndex: eX, yAxisIndex: eY, data: vennNames.map((n, i) => [vennLabelX[i], vennLabelY[i], n]),
    symbolSize: 1, itemStyle: { color: "rgba(0,0,0,0)" }, z: 5,
    label: { show: true, position: "inside", formatter: (p: any) => String(p.data[2]), fontSize: 14, color: (p: any) => vennLabelColor[p.dataIndex], fontFamily: FONT },
  });

  /* ---------------- F ---------------- */
  const gF = addGrid({ left: 770, top: 265, width: 280, height: 265 });
  const fX = hiddenAxis("x", gF, 770, 1050);
  const fY = hiddenAxis("y", gF, 265, 530, true);
  addS({
    type: "graph", coordinateSystem: "cartesian2d", xAxisIndex: fX, yAxisIndex: fY,
    data: ppiNodes.map((n, i) => ({
      name: n, value: [ppiX[i], ppiY[i]], symbolSize: ppiRadius[i] * 2, itemStyle: { color: ppiColors[i] },
      label: { fontSize: ppiRadius[i] > 11 ? 7.4 : 6.6 },
    })),
    links: [
      ...ppiLinks.map(([s, t]) => ({ source: s, target: t })),
      ...ppiCurvedLinks.map(([s, t]) => ({ source: s, target: t, lineStyle: { curveness: 0.3 } })),
    ],
    lineStyle: { color: "#C4C4C4", width: 0.7, opacity: 0.75, curveness: 0 },
    label: { show: true, position: "inside", color: "#FFFFFF", fontFamily: FONT },
    emphasis: { disabled: true },
  });

  /* ---------------- G ---------------- */
  const gTops = [571.7, 683.3, 795.7];
  const gHeights = [106.6, 107.4, 107];
  const goSeries: number[] = [];
  goOntologies.forEach((ont, k) => {
    const gi = addGrid({ left: 220.7, top: gTops[k], width: 239.3, height: gHeights[k], show: true, borderColor: "#444", borderWidth: 0.9 });
    const gx = ggX(gi, -0.55, 11.55, goCountTicks, goCountMinor, k === 2, (v) => String(v), { fontSize: 10, color: "#333", margin: 4 });
    const gy = ggY(gi, 0.4, 5.6, [1, 2, 3, 4, 5], null, (v) => goTerms[k][Math.round(v) - 1] || "", { inverse: true, fontSize: 9.7, color: "#1A1A1A", margin: 4 });
    goSeries.push(addS({
      type: "custom", xAxisIndex: gx, yAxisIndex: gy, encode: { x: 0, y: 1 },
      data: goCounts[k].map((c, i) => [c, i + 1, goPvalues[k][i]]),
      renderItem: (params: any, api: any) => {
        const y = api.value(1);
        const p0 = api.coord([0, y - 0.45]);
        const p1 = api.coord([api.value(0), y + 0.45]);
        return { type: "rect", shape: { x: p0[0], y: Math.min(p0[1], p1[1]), width: p1[0] - p0[0], height: Math.abs(p1[1] - p0[1]) }, style: { fill: api.visual("color"), stroke: "#FFFFFF", lineWidth: 0.8 } };
      },
    }));
    graphic.push({ type: "rect", shape: { x: 460, y: gTops[k], width: 14, height: gHeights[k] }, style: { fill: "#D9D9D9", stroke: "#444", lineWidth: 0.9 }, silent: true, z: 90 });
    text(ont, 467, gTops[k] + gHeights[k] / 2, { size: 8.5, fill: "#1A1A1A", rotation: -Math.PI / 2 });
  });
  text("Count", 340.5, 924.5, { size: 11 });
  text("pvalue", 486.5, 696.5, { size: 10, align: "left" });
  graphic.push({
    type: "rect", shape: { x: 487.3, y: 706, width: 13.7, height: 77 }, silent: true, z: 90,
    style: { fill: new echarts.graphic.LinearGradient(0, 0, 0, 1, enrichColors.map((c, i) => ({ offset: i / 4, color: c }))) },
  });
  goLegendTicks.forEach((v) => {
    const y = 706 + (v / goPMax) * 77;
    graphic.push({ type: "line", shape: { x1: 487.3, y1: y, x2: 490.3, y2: y }, style: { stroke: "#fff", lineWidth: 0.8 }, silent: true, z: 91 });
    graphic.push({ type: "line", shape: { x1: 498, y1: y, x2: 501, y2: y }, style: { stroke: "#fff", lineWidth: 0.8 }, silent: true, z: 91 });
    text(v.toFixed(3), 504.5, y, { size: 7.8, align: "left", fill: "#1A1A1A" });
  });

  /* ---------------- H ---------------- */
  const gH = addGrid({ left: 737.3, top: 568.3, width: 278.7, height: 338.4, show: true, borderColor: "#6A6A6A", borderWidth: 0.8 });
  const hX = ggX(gH, 0.0638, 0.1772, keggRatioTicks, keggRatioMinor, true, (v) => v.toFixed(2), { fontSize: 8.8, color: "#333", margin: 3.5 });
  const hY = ggY(gH, 0.4, 10.6, [1, 2, 3, 4, 5, 6, 7, 8, 9, 10], null, (v) => keggTerms[Math.round(v) - 1] || "", { inverse: true, fontSize: 8.3, color: "#1A1A1A", margin: 4, lineHeight: 10 });
  const sH = addS({
    type: "scatter", xAxisIndex: hX, yAxisIndex: hY,
    data: keggTerms.map((t, i) => [keggGeneRatio[i], i + 1, keggPvalues[i], keggCounts[i]]),
    symbolSize: (v: any) => countDiameter[v[3]] || 8,
    itemStyle: { borderColor: "#111", borderWidth: 0.7, opacity: 1 },
  });
  text("GeneRatio", 876.5, 925, { size: 9.5, fill: "#1A1A1A" });
  text("pvalue", 1027.5, 660, { size: 9, align: "left" });
  graphic.push({
    type: "rect", shape: { x: 1028.3, y: 668.3, width: 11.7, height: 64.4 }, silent: true, z: 90,
    style: { fill: new echarts.graphic.LinearGradient(0, 0, 0, 1, enrichColors.map((c, i) => ({ offset: i / 4, color: c }))) },
  });
  keggLegendTicks.forEach((v) => {
    const y = 668.3 + ((v - keggPMin) / (keggPMax - keggPMin)) * 64.4;
    graphic.push({ type: "line", shape: { x1: 1028.3, y1: y, x2: 1030.8, y2: y }, style: { stroke: "#fff", lineWidth: 0.8 }, silent: true, z: 91 });
    graphic.push({ type: "line", shape: { x1: 1037.5, y1: y, x2: 1040, y2: y }, style: { stroke: "#fff", lineWidth: 0.8 }, silent: true, z: 91 });
    text(v.toFixed(2), 1043, y, { size: 7, align: "left", fill: "#1A1A1A" });
  });
  text("Count", 1027.5, 754, { size: 9, align: "left" });
  const countLegendY = [768.7, 781.5, 795.8, 811.7];
  keggCountLegend.forEach((c, i) => {
    graphic.push({ type: "circle", shape: { cx: 1035.8, cy: countLegendY[i], r: countDiameter[c] / 2 }, style: { fill: "none", stroke: "#111", lineWidth: 0.8 }, silent: true, z: 90 });
    text(String(c), 1049, countLegendY[i], { size: 7, align: "left", fill: "#1A1A1A" });
  });

  const visualMap = [
    { type: "continuous", show: false, seriesIndex: sC, dimension: 2, min: -1, max: 1, inRange: { color: heatColors } },
    { type: "continuous", show: false, seriesIndex: goSeries, dimension: 2, min: 0, max: goPMax, inRange: { color: enrichColors } },
    { type: "continuous", show: false, seriesIndex: sH, dimension: 2, min: keggPMin, max: keggPMax, inRange: { color: enrichColors } },
  ];

  return {
    animation: false,
    backgroundColor: "#ffffff",
    textStyle: { fontFamily: FONT },
    grid, xAxis, yAxis, series, visualMap, graphic,
  };
}

export default function App() {
  const ref = useRef<HTMLDivElement>(null);
  useEffect(() => {
    if (!ref.current) return;
    const chart = echarts.init(ref.current, undefined, { renderer: "svg", width: 1065, height: 930 });
    chart.setOption(buildOption() as any);
    return () => chart.dispose();
  }, []);
  return <div ref={ref} style={{ position: "fixed", left: 0, top: 0, width: 1065, height: 930, background: "#fff" }} />;
}
